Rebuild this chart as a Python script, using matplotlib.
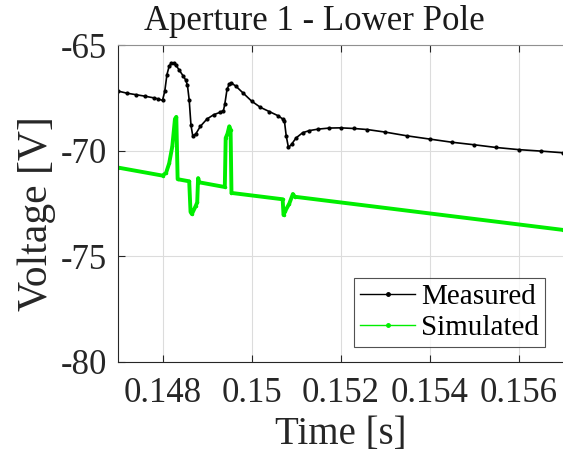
import matplotlib
matplotlib.use("Agg")
import matplotlib.pyplot as plt
from matplotlib.lines import Line2D

plt.rcParams['font.family'] = ['Liberation Serif', 'DejaVu Serif']
plt.rcParams['axes.unicode_minus'] = False

meas_t = [0.1470, 0.1472, 0.1474, 0.1476, 0.1478, 0.1479, 0.14800, 0.14805, 0.14810,
          0.14815, 0.14820, 0.14825, 0.14830, 0.14838, 0.14846, 0.14852, 0.14856,
          0.14860, 0.14864, 0.14868, 0.14875, 0.14885, 0.14900, 0.14915, 0.14930,
          0.14937, 0.14940, 0.14945, 0.14950, 0.14955, 0.14965, 0.14980, 0.15000,
          0.15020, 0.15040, 0.15060, 0.15070, 0.15074, 0.15078, 0.15083, 0.15090,
          0.15100, 0.15115, 0.15130, 0.15150, 0.15175, 0.1520, 0.1523, 0.1526,
          0.1530, 0.1535, 0.1540, 0.1545, 0.1550, 0.1555, 0.1560, 0.1565, 0.1570]
meas_v = [-67.18, -67.28, -67.35, -67.42, -67.50, -67.55, -67.62, -67.2, -66.4,
          -66.0, -65.85, -65.85, -65.95, -66.2, -66.45, -66.65, -66.9,
          -67.6, -68.8, -69.3, -69.2, -68.85, -68.5, -68.3, -68.18,
          -68.1, -67.8, -67.1, -66.85, -66.8, -66.95, -67.25, -67.65,
          -67.95, -68.15, -68.35, -68.5, -68.6, -69.3, -69.85, -69.7,
          -69.4, -69.15, -69.05, -68.98, -68.93, -68.92, -68.95, -69.0,
          -69.12, -69.3, -69.45, -69.6, -69.72, -69.85, -69.95, -70.02, -70.1]

sim_t = [0.1470, 0.1480, 0.14808, 0.14815, 0.14822, 0.14828, 0.14831, 0.14834,
         0.14860, 0.14863, 0.14866, 0.14875, 0.14878, 0.14880, 0.14883, 0.14940,
         0.14942, 0.14946, 0.14950, 0.14953, 0.14955, 0.15070, 0.15072, 0.15076,
         0.15085, 0.15093, 0.15097, 0.1570]
sim_v = [-70.8, -71.18, -71.05, -70.6, -69.8, -68.5, -68.4, -71.35,
         -71.45, -72.9, -73.0, -72.6, -72.45, -71.3, -71.5, -71.72,
         -69.4, -69.2, -68.85, -69.0, -72.0, -72.3, -73.05, -72.85,
         -72.5, -72.05, -72.18, -73.75]

x_ticks = [0.148, 0.150, 0.152, 0.154, 0.156]
x_ticklabels = ['0.148', '0.15', '0.152', '0.154', '0.156']
y_ticks = [-80, -75, -70, -65]
series_names = ['Measured', 'Simulated']

GREEN = '#00ee00'
W, H = 563, 466
fig = plt.figure(figsize=(W / 100, H / 100), dpi=100)
left, right, top, bottom = 118, 563, 45, 362
aw, ah = right - left, bottom - top
ax = fig.add_axes([left / W, 1 - bottom / H, aw / W, ah / H])

ax.plot(meas_t, meas_v, color='black', lw=1.2, marker='.', ms=4)
ax.plot(sim_t, sim_v, color=GREEN, lw=2.8, marker='.', ms=3, solid_joinstyle='round')

ax.set_xlim(0.147, 0.157)
ax.set_ylim(-80, -65)
ax.set_xticks(x_ticks)
ax.set_xticklabels(x_ticklabels)
ax.set_yticks(y_ticks)
ax.grid(True, color='#dcdcdc', lw=0.8)
ax.set_axisbelow(True)

for s in ['left', 'bottom']:
    ax.spines[s].set_color('#262626')
    ax.spines[s].set_linewidth(0.8)
ax.spines['top'].set_color('#909090')
ax.spines['right'].set_visible(False)

ax.tick_params(direction='in', length=5, width=0.8, colors='#262626',
               labelsize=25, top=True, labelcolor='#262626')
ax.tick_params(axis='x', pad=11)
ax.tick_params(axis='y', pad=8)

ax.set_xlabel('Time [s]', fontsize=28, color='#262626', va='top')
ax.xaxis.set_label_coords((341 - left) / aw, (bottom - 416) / ah)
ax.set_ylabel('Voltage [V]', fontsize=30, color='#262626')
ax.yaxis.set_label_coords((56 - left) / aw, (bottom - 214) / ah)
fig.text(314 / W, 1 - 22 / H, 'Aperture 1 - Lower Pole', fontsize=25,
         ha='center', va='center', color='#1a1a1a')

handles = [Line2D([], [], color='black', lw=1.0, marker='.', ms=5),
           Line2D([], [], color=GREEN, lw=1.0, marker='.', ms=5)]
leg = ax.legend(handles, series_names, loc='lower right',
                bbox_to_anchor=((545 - left) / aw, (bottom - 347) / ah),
                fontsize=21, frameon=True, fancybox=False, edgecolor='#262626',
                borderpad=0.2, handlelength=1.9, handletextpad=0.2, labelspacing=0.15,
                borderaxespad=0, numpoints=1)
leg.get_frame().set_linewidth(0.8)

fig.savefig('out.png', dpi=100)
